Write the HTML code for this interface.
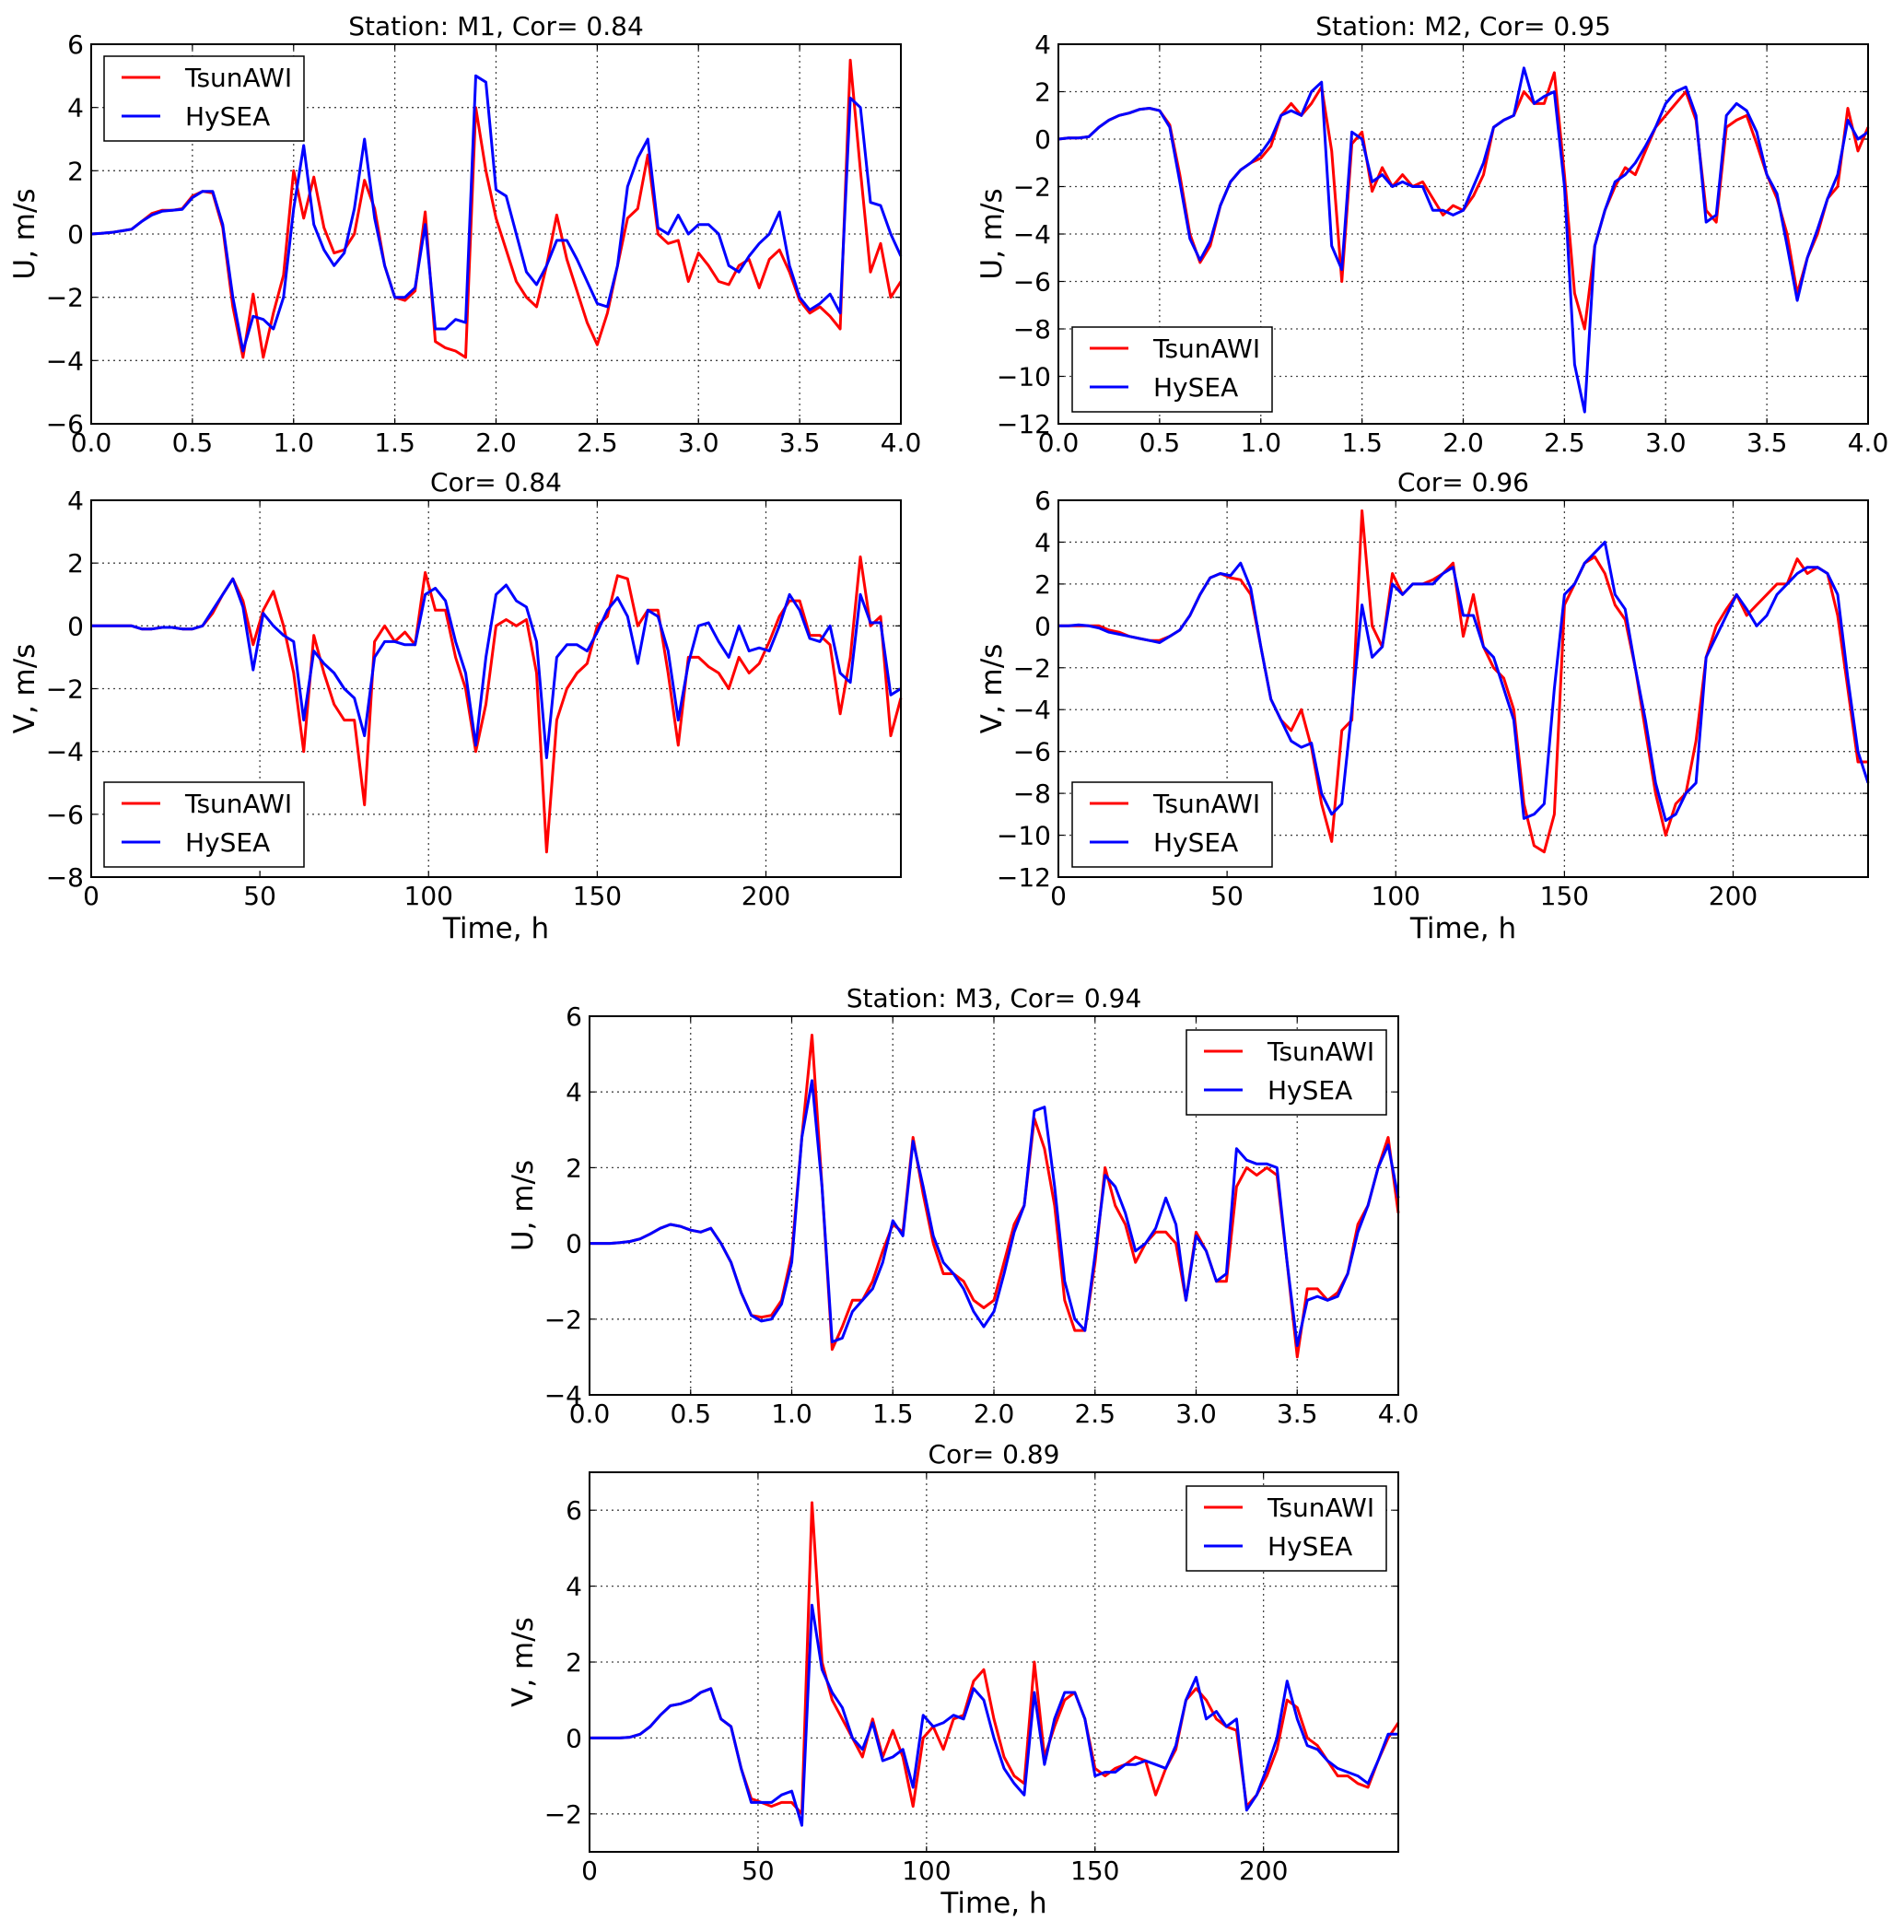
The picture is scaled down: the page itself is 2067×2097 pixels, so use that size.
<!DOCTYPE html>
<html><head><meta charset="utf-8"><style>
html,body{margin:0;padding:0;background:#fff;}
svg{display:block;font-family:"DejaVu Sans","Liberation Sans",sans-serif;}
</style></head><body>
<svg id="fig" width="2067" height="2097" viewBox="0 0 2067 2097" xmlns="http://www.w3.org/2000/svg"></svg>
<script>
// ---- data ----
const uTicksX = ["0.0","0.5","1.0","1.5","2.0","2.5","3.0","3.5","4.0"];
const vTicksX = ["0","50","100","150","200"];
const seriesNames = ["TsunAWI","HySEA"];
const uStep = 0.05;   // hours between U samples
const vStep = 3;      // hours between V samples

const m1U_tsun = [0,0.02,0.05,0.1,0.15,0.4,0.65,0.75,0.75,0.8,
1.2,1.35,1.3,0.2,-2.3,-3.9,-1.9,-3.9,-2.5,-1.3,
2.0,0.5,1.8,0.2,-0.6,-0.5,0.0,1.7,0.8,-1.0,
-2.0,-2.1,-1.8,0.7,-3.4,-3.6,-3.7,-3.9,4.0,2.0,
0.5,-0.5,-1.5,-2.0,-2.3,-1.0,0.6,-0.8,-1.8,-2.8,
-3.5,-2.5,-1.0,0.5,0.8,2.5,0.0,-0.3,-0.2,-1.5,
-0.6,-1.0,-1.5,-1.6,-1.0,-0.8,-1.7,-0.8,-0.5,-1.2,
-2.1,-2.5,-2.3,-2.6,-3.0,5.5,2.0,-1.2,-0.3,-2.0,
-1.5];
const m1U_hysea = [0,0.02,0.05,0.1,0.15,0.4,0.6,0.72,0.75,0.78,
1.15,1.35,1.35,0.3,-2.0,-3.7,-2.6,-2.7,-3.0,-2.0,
0.8,2.8,0.3,-0.5,-1.0,-0.6,0.8,3.0,0.5,-1.0,
-2.0,-2.0,-1.7,0.3,-3.0,-3.0,-2.7,-2.8,5.0,4.8,
1.4,1.2,0.0,-1.2,-1.6,-1.0,-0.2,-0.2,-0.8,-1.5,
-2.2,-2.3,-1.0,1.5,2.4,3.0,0.2,0.0,0.6,0.0,
0.3,0.3,0.0,-1.0,-1.2,-0.7,-0.3,0.0,0.7,-1.0,
-2.0,-2.4,-2.2,-1.9,-2.5,4.3,4.0,1.0,0.9,0.0,
-0.7];
const m2U_tsun = [0,0.05,0.05,0.1,0.5,0.8,1.0,1.1,1.25,1.3,
1.2,0.6,-1.5,-4.0,-5.2,-4.5,-2.8,-1.8,-1.3,-1.0,
-0.8,-0.3,1.0,1.5,1.0,1.5,2.2,-0.5,-6.0,-0.2,
0.3,-2.2,-1.2,-2.0,-1.5,-2.0,-1.8,-2.5,-3.2,-2.8,
-3.0,-2.4,-1.5,0.5,0.8,1.0,2.0,1.5,1.5,2.8,
-1.5,-6.5,-8.0,-4.5,-3.0,-2.0,-1.2,-1.5,-0.5,0.5,
1.0,1.5,2.0,0.8,-3.0,-3.5,0.5,0.8,1.0,-0.2,
-1.5,-2.5,-4.0,-6.5,-5.0,-4.0,-2.5,-2.0,1.3,-0.5,
0.5];
const m2U_hysea = [0,0.05,0.05,0.1,0.5,0.8,1.0,1.1,1.25,1.3,
1.2,0.5,-1.8,-4.2,-5.1,-4.3,-2.8,-1.8,-1.3,-1.0,
-0.6,0.0,1.0,1.2,1.0,2.0,2.4,-4.5,-5.5,0.3,
0.0,-1.8,-1.5,-2.0,-1.8,-2.0,-2.0,-3.0,-3.0,-3.2,
-3.0,-2.0,-1.0,0.5,0.8,1.0,3.0,1.5,1.8,2.0,
-2.0,-9.5,-11.5,-4.5,-3.0,-1.8,-1.5,-1.0,-0.3,0.5,
1.5,2.0,2.2,1.0,-3.5,-3.2,1.0,1.5,1.2,0.3,
-1.5,-2.3,-4.5,-6.8,-5.0,-3.8,-2.5,-1.5,0.8,0.0,
0.3];
const m1V_tsun = [0,0,0,0,0,-0.1,-0.1,-0.05,-0.05,-0.1,
-0.1,0.0,0.4,1.0,1.5,0.8,-0.6,0.5,1.1,0.0,
-1.5,-4.0,-0.3,-1.5,-2.5,-3.0,-3.0,-5.7,-0.5,0.0,
-0.5,-0.2,-0.6,1.7,0.5,0.5,-1.0,-2.0,-4.0,-2.5,
0.0,0.2,0.0,0.2,-1.5,-7.2,-3.0,-2.0,-1.5,-1.2,
0.0,0.3,1.6,1.5,0.0,0.5,0.5,-1.5,-3.8,-1.0,
-1.0,-1.3,-1.5,-2.0,-1.0,-1.5,-1.2,-0.5,0.3,0.8,
0.8,-0.3,-0.3,-0.6,-2.8,-1.0,2.2,0.0,0.3,-3.5,
-2.3];
const m1V_hysea = [0,0,0,0,0,-0.1,-0.1,-0.05,-0.05,-0.1,
-0.1,0.0,0.5,1.0,1.5,0.6,-1.4,0.4,0.0,-0.3,
-0.5,-3.0,-0.8,-1.2,-1.5,-2.0,-2.3,-3.5,-1.0,-0.5,
-0.5,-0.6,-0.6,1.0,1.2,0.8,-0.5,-1.5,-3.8,-1.0,
1.0,1.3,0.8,0.6,-0.5,-4.2,-1.0,-0.6,-0.6,-0.8,
-0.2,0.5,0.9,0.3,-1.2,0.5,0.3,-0.8,-3.0,-1.2,
0.0,0.1,-0.5,-1.0,0.0,-0.8,-0.7,-0.8,0.0,1.0,
0.5,-0.4,-0.5,0.0,-1.5,-1.8,1.0,0.1,0.1,-2.2,
-2.0];
const m2V_tsun = [0,0,0,0,0,-0.2,-0.3,-0.5,-0.6,-0.7,
-0.7,-0.5,-0.2,0.5,1.5,2.3,2.5,2.3,2.2,1.5,
-1.0,-3.5,-4.5,-5.0,-4.0,-5.8,-8.5,-10.3,-5.0,-4.5,
5.5,0.0,-1.0,2.5,1.5,2.0,2.0,2.2,2.5,3.0,
-0.5,1.5,-1.0,-2.0,-2.5,-4.0,-8.5,-10.5,-10.8,-9.0,
1.0,2.0,3.0,3.3,2.5,1.0,0.3,-2.0,-5.0,-8.0,
-10.0,-8.5,-8.0,-5.5,-1.5,0.0,0.8,1.5,0.5,1.0,
1.5,2.0,2.0,3.2,2.5,2.8,2.5,0.5,-3.0,-6.5,
-6.5];
const m2V_hysea = [0,0,0.05,0,-0.1,-0.3,-0.4,-0.5,-0.6,-0.7,
-0.8,-0.5,-0.2,0.5,1.5,2.3,2.5,2.4,3.0,1.8,
-1.0,-3.5,-4.5,-5.5,-5.8,-5.6,-8.0,-9.0,-8.5,-4.0,
1.0,-1.5,-1.0,2.0,1.5,2.0,2.0,2.0,2.5,2.8,
0.5,0.5,-1.0,-1.5,-3.0,-4.5,-9.2,-9.0,-8.5,-3.0,
1.5,2.0,3.0,3.5,4.0,1.5,0.8,-2.0,-4.5,-7.5,
-9.3,-9.0,-8.0,-7.5,-1.5,-0.5,0.5,1.5,0.8,0.0,
0.5,1.5,2.0,2.5,2.8,2.8,2.5,1.5,-2.5,-6.0,
-7.5];
const m3U_tsun = [0,0,0,0.02,0.05,0.12,0.25,0.4,0.5,0.45,
0.35,0.3,0.4,0.0,-0.5,-1.3,-1.9,-1.95,-1.9,-1.5,
-0.3,2.8,5.5,1.5,-2.8,-2.2,-1.5,-1.5,-1.0,-0.2,
0.5,0.3,2.8,1.3,0.0,-0.8,-0.8,-1.0,-1.5,-1.7,
-1.5,-0.5,0.5,1.0,3.3,2.5,1.0,-1.5,-2.3,-2.3,
-0.5,2.0,1.0,0.5,-0.5,0.0,0.3,0.3,0.0,-1.5,
0.3,-0.2,-1.0,-1.0,1.5,2.0,1.8,2.0,1.8,-0.5,
-3.0,-1.2,-1.2,-1.5,-1.3,-0.8,0.5,1.0,2.0,2.8,
0.8];
const m3U_hysea = [0,0,0,0.02,0.05,0.12,0.25,0.4,0.5,0.45,
0.35,0.3,0.4,0.0,-0.5,-1.3,-1.9,-2.05,-2.0,-1.6,
-0.5,2.8,4.3,1.5,-2.6,-2.5,-1.8,-1.5,-1.2,-0.5,
0.6,0.2,2.7,1.5,0.2,-0.5,-0.8,-1.2,-1.8,-2.2,
-1.8,-0.8,0.3,1.0,3.5,3.6,1.5,-1.0,-2.0,-2.3,
-0.3,1.8,1.5,0.8,-0.2,0.0,0.4,1.2,0.5,-1.5,
0.2,-0.2,-1.0,-0.8,2.5,2.2,2.1,2.1,2.0,-0.5,
-2.7,-1.5,-1.4,-1.5,-1.4,-0.8,0.3,1.0,2.0,2.6,
1.2];
const m3V_tsun = [0,0,0,0,0.02,0.1,0.3,0.6,0.85,0.9,
1.0,1.2,1.3,0.5,0.3,-0.8,-1.6,-1.7,-1.8,-1.7,
-1.7,-2.0,6.2,2.0,1.0,0.5,0.0,-0.5,0.5,-0.5,
0.2,-0.5,-1.8,0.0,0.3,-0.3,0.5,0.6,1.5,1.8,
0.5,-0.5,-1.0,-1.2,2.0,-0.5,0.3,1.0,1.2,0.5,
-0.8,-1.0,-0.8,-0.7,-0.5,-0.6,-1.5,-0.8,-0.3,1.0,
1.3,1.0,0.5,0.3,0.2,-1.8,-1.5,-1.0,-0.3,1.0,
0.8,0.0,-0.2,-0.6,-1.0,-1.0,-1.2,-1.3,-0.6,0.0,
0.4];
const m3V_hysea = [0,0,0,0,0.02,0.1,0.3,0.6,0.85,0.9,
1.0,1.2,1.3,0.5,0.3,-0.8,-1.7,-1.7,-1.7,-1.5,
-1.4,-2.3,3.5,1.8,1.2,0.8,0.0,-0.3,0.4,-0.6,
-0.5,-0.3,-1.3,0.6,0.3,0.4,0.6,0.5,1.3,1.0,
0.0,-0.8,-1.2,-1.5,1.2,-0.7,0.5,1.2,1.2,0.5,
-1.0,-0.9,-0.9,-0.7,-0.7,-0.6,-0.7,-0.8,-0.2,1.0,
1.6,0.5,0.7,0.3,0.5,-1.9,-1.5,-0.8,0.0,1.5,
0.5,-0.2,-0.3,-0.6,-0.8,-0.9,-1.0,-1.2,-0.6,0.1,
0.1];

// ---- drawing ----
const NS = "http://www.w3.org/2000/svg";
const svg = document.getElementById("fig");
function mk(tag, attrs, parent, text){
  const e = document.createElementNS(NS, tag);
  for (const k in attrs) e.setAttribute(k, attrs[k]);
  if (text !== undefined) e.textContent = text;
  (parent || svg).appendChild(e);
  return e;
}
function panel(cfg){
  const g = mk("g", {});
  
  
  const {x0,x1,y0,y1,xmin,xmax,ymin,ymax} = cfg;
  const sx = v => x0 + (v - xmin) / (xmax - xmin) * (x1 - x0);
  const sy = v => y1 - (v - ymin) / (ymax - ymin) * (y1 - y0);
  cfg.xticks.forEach(lbl => {
    const v = parseFloat(lbl), X = sx(v);
    if (X > x0 + 1 && X < x1 - 1) mk("line", {x1:X,y1:y0,x2:X,y2:y1,stroke:"#444","stroke-width":1.3,"stroke-dasharray":"2,4"}, g);
    mk("line", {x1:X,y1:y1,x2:X,y2:y1-6,stroke:"#000","stroke-width":1.2}, g);
    mk("line", {x1:X,y1:y0,x2:X,y2:y0+6,stroke:"#000","stroke-width":1.2}, g);
    const t = mk("text", {x:X,y:y1+30,"font-size":28,"text-anchor":"middle",fill:"#000"}, g, lbl);
    
    
  });
  const ystart = Math.ceil(ymin / cfg.ystep - 1e-9) * cfg.ystep;
  for (let v = ystart; v <= ymax + 1e-9; v += cfg.ystep){
    const Y = sy(v);
    if (Y > y0 + 1 && Y < y1 - 1) mk("line", {x1:x0,y1:Y,x2:x1,y2:Y,stroke:"#444","stroke-width":1.3,"stroke-dasharray":"2,4"}, g);
    mk("line", {x1:x0,y1:Y,x2:x0+6,y2:Y,stroke:"#000","stroke-width":1.2}, g);
    mk("line", {x1:x1,y1:Y,x2:x1-6,y2:Y,stroke:"#000","stroke-width":1.2}, g);
    const t = mk("text", {x:x0-8,y:Y+10,"font-size":28,"text-anchor":"end",fill:"#000"}, g, (v<0?"\u2212":"")+Math.abs(v));
    
    
  }
  const cols = ["#ff0000","#0000ff"];
  cfg.series.forEach((arr, si) => {
    let d = "";
    arr.forEach((v,i) => { d += (i ? "L" : "M") + sx(i*cfg.step).toFixed(1) + "," + sy(v).toFixed(1); });
    const p = mk("path", {d:d,fill:"none",stroke:cols[si],"stroke-width":3,"stroke-linejoin":"round"}, g);
    
    
  });
  mk("rect", {x:x0,y:y0,width:x1-x0,height:y1-y0,fill:"none",stroke:"#000","stroke-width":2}, g);
  const tt = mk("text", {x:(x0+x1)/2,y:y0-10,"font-size":28,"text-anchor":"middle",fill:"#000"}, g, cfg.title);
  
  
  const yl = mk("text", {x:0,y:0,"font-size":31,"text-anchor":"middle",fill:"#000",transform:`translate(${x0-62},${(y0+y1)/2}) rotate(-90)`}, g, cfg.ylabel);
  
  
  if (cfg.xlabel){
    const xl = mk("text", {x:(x0+x1)/2,y:y1+66,"font-size":31,"text-anchor":"middle",fill:"#000"}, g, cfg.xlabel);
    
    
  }
  const lg = mk("g", {}, g);
  
  
  const [lx, ly] = cfg.legend;
  mk("rect", {x:lx,y:ly,width:217,height:92,fill:"#fff",stroke:"#000","stroke-width":1.5}, lg);
  seriesNames.forEach((n, i) => {
    const Y = ly + 23 + i*42;
    mk("line", {x1:lx+19,y1:Y,x2:lx+61,y2:Y,stroke:cols[i],"stroke-width":3}, lg);
    const t = mk("text", {x:lx+88,y:Y+10,"font-size":28,fill:"#000"}, lg, n);
    
    
  });
}
panel({name:"m1-u-panel",x0:99,x1:978,y0:48,y1:460,xmin:0,xmax:4,ymin:-6,ymax:6,ystep:2,step:uStep,xticks:uTicksX,
  series:[m1U_tsun,m1U_hysea],title:"Station: M1, Cor= 0.84",ylabel:"U, m/s",legend:[113,61]});
panel({name:"m2-u-panel",x0:1149,x1:2028,y0:48,y1:460,xmin:0,xmax:4,ymin:-12,ymax:4,ystep:2,step:uStep,xticks:uTicksX,
  series:[m2U_tsun,m2U_hysea],title:"Station: M2, Cor= 0.95",ylabel:"U, m/s",legend:[1164,355]});
panel({name:"m1-v-panel",x0:99,x1:978,y0:543,y1:952,xmin:0,xmax:240,ymin:-8,ymax:4,ystep:2,step:vStep,xticks:vTicksX,
  series:[m1V_tsun,m1V_hysea],title:"Cor= 0.84",ylabel:"V, m/s",xlabel:"Time, h",legend:[113,849]});
panel({name:"m2-v-panel",x0:1149,x1:2028,y0:543,y1:952,xmin:0,xmax:240,ymin:-12,ymax:6,ystep:2,step:vStep,xticks:vTicksX,
  series:[m2V_tsun,m2V_hysea],title:"Cor= 0.96",ylabel:"V, m/s",xlabel:"Time, h",legend:[1164,849]});
panel({name:"m3-u-panel",x0:640,x1:1518,y0:1103,y1:1514,xmin:0,xmax:4,ymin:-4,ymax:6,ystep:2,step:uStep,xticks:uTicksX,
  series:[m3U_tsun,m3U_hysea],title:"Station: M3, Cor= 0.94",ylabel:"U, m/s",legend:[1288,1118]});
panel({name:"m3-v-panel",x0:640,x1:1518,y0:1598,y1:2010,xmin:0,xmax:240,ymin:-3,ymax:7,ystep:2,step:vStep,xticks:vTicksX,
  series:[m3V_tsun,m3V_hysea],title:"Cor= 0.89",ylabel:"V, m/s",xlabel:"Time, h",legend:[1288,1613]});
</script>
</body></html>
